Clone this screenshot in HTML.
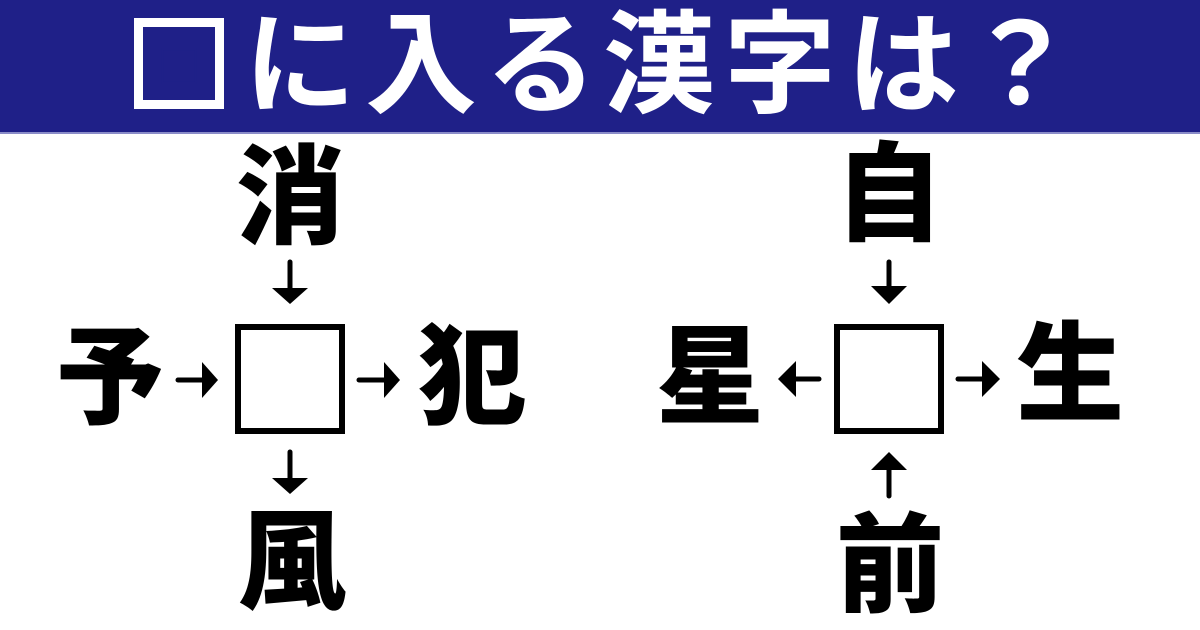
<!DOCTYPE html>
<html><head><meta charset="utf-8"><style>
html,body{margin:0;padding:0;background:#fff;}
body{width:1200px;height:630px;position:relative;overflow:hidden;font-family:"Liberation Sans","Noto Sans CJK JP",sans-serif;}
.hd{position:absolute;left:0;top:0;width:1200px;height:132px;background:#1f2088;border-bottom:2px solid #8a8cc8;}
.t{position:absolute;top:6px;height:120px;width:120px;margin-left:-60px;text-align:center;color:#fff;font-weight:700;font-size:112px;line-height:120px;}
.sq{position:absolute;left:134px;top:18px;width:72px;height:73px;border:9px solid #fff;color:#fff;font-size:60px;line-height:73px;text-align:center;overflow:hidden;}
.k{position:absolute;width:200px;height:112px;margin-left:-100px;margin-top:-58px;text-align:center;font-weight:900;font-size:108px;line-height:112px;color:#000;}
.box{position:absolute;width:98px;height:98px;border:6px solid #000;}
svg{position:absolute;left:0;top:0;}
</style></head><body>
<div class="hd"></div>
<div class="sq"><span style="color:#1f2088">□</span></div>
<div class="t" style="left:300px">に</div>
<div class="t" style="left:421px">入</div>
<div class="t" style="left:541px">る</div>
<div class="t" style="left:659px">漢</div>
<div class="t" style="left:780px">字</div>
<div class="t" style="left:903px">は</div>
<div class="t" style="left:1020px">？</div>

<div class="box" style="left:235px;top:324px"></div>
<div class="box" style="left:834px;top:324px"></div>

<div class="k" style="left:290px;top:200px">消</div>
<div class="k" style="left:110px;top:380px">予</div>
<div class="k" style="left:472px;top:380px">犯</div>
<div class="k" style="left:292px;top:565px">風</div>

<div class="k" style="left:889px;top:197px">自</div>
<div class="k" style="left:710px;top:380px">星</div>
<div class="k" style="left:1070px;top:377px">生</div>
<div class="k" style="left:890px;top:568px">前</div>

<svg width="1200" height="630">
<g stroke="#000" stroke-width="5" stroke-linecap="round" fill="#000">
<line x1="290" y1="262" x2="290" y2="290"/><polygon stroke="none" points="272,288 308,288 290,304"/>
<line x1="290" y1="452" x2="290" y2="480"/><polygon stroke="none" points="272,478 308,478 290,494"/>
<line x1="178" y1="380" x2="204" y2="380"/><polygon stroke="none" points="202,362 202,398 218,380"/>
<line x1="359" y1="380" x2="386" y2="380"/><polygon stroke="none" points="384,362 384,398 400,380"/>
<line x1="889" y1="262" x2="889" y2="290"/><polygon stroke="none" points="871,286 907,286 889,304"/>
<line x1="889" y1="496" x2="889" y2="468"/><polygon stroke="none" points="871,470 907,470 889,452"/>
<line x1="819" y1="379" x2="793" y2="379"/><polygon stroke="none" points="796,361 796,397 778,379"/>
<line x1="958" y1="379" x2="984" y2="379"/><polygon stroke="none" points="982,361 982,397 1000,379"/>
</g>
</svg>
</body></html>
